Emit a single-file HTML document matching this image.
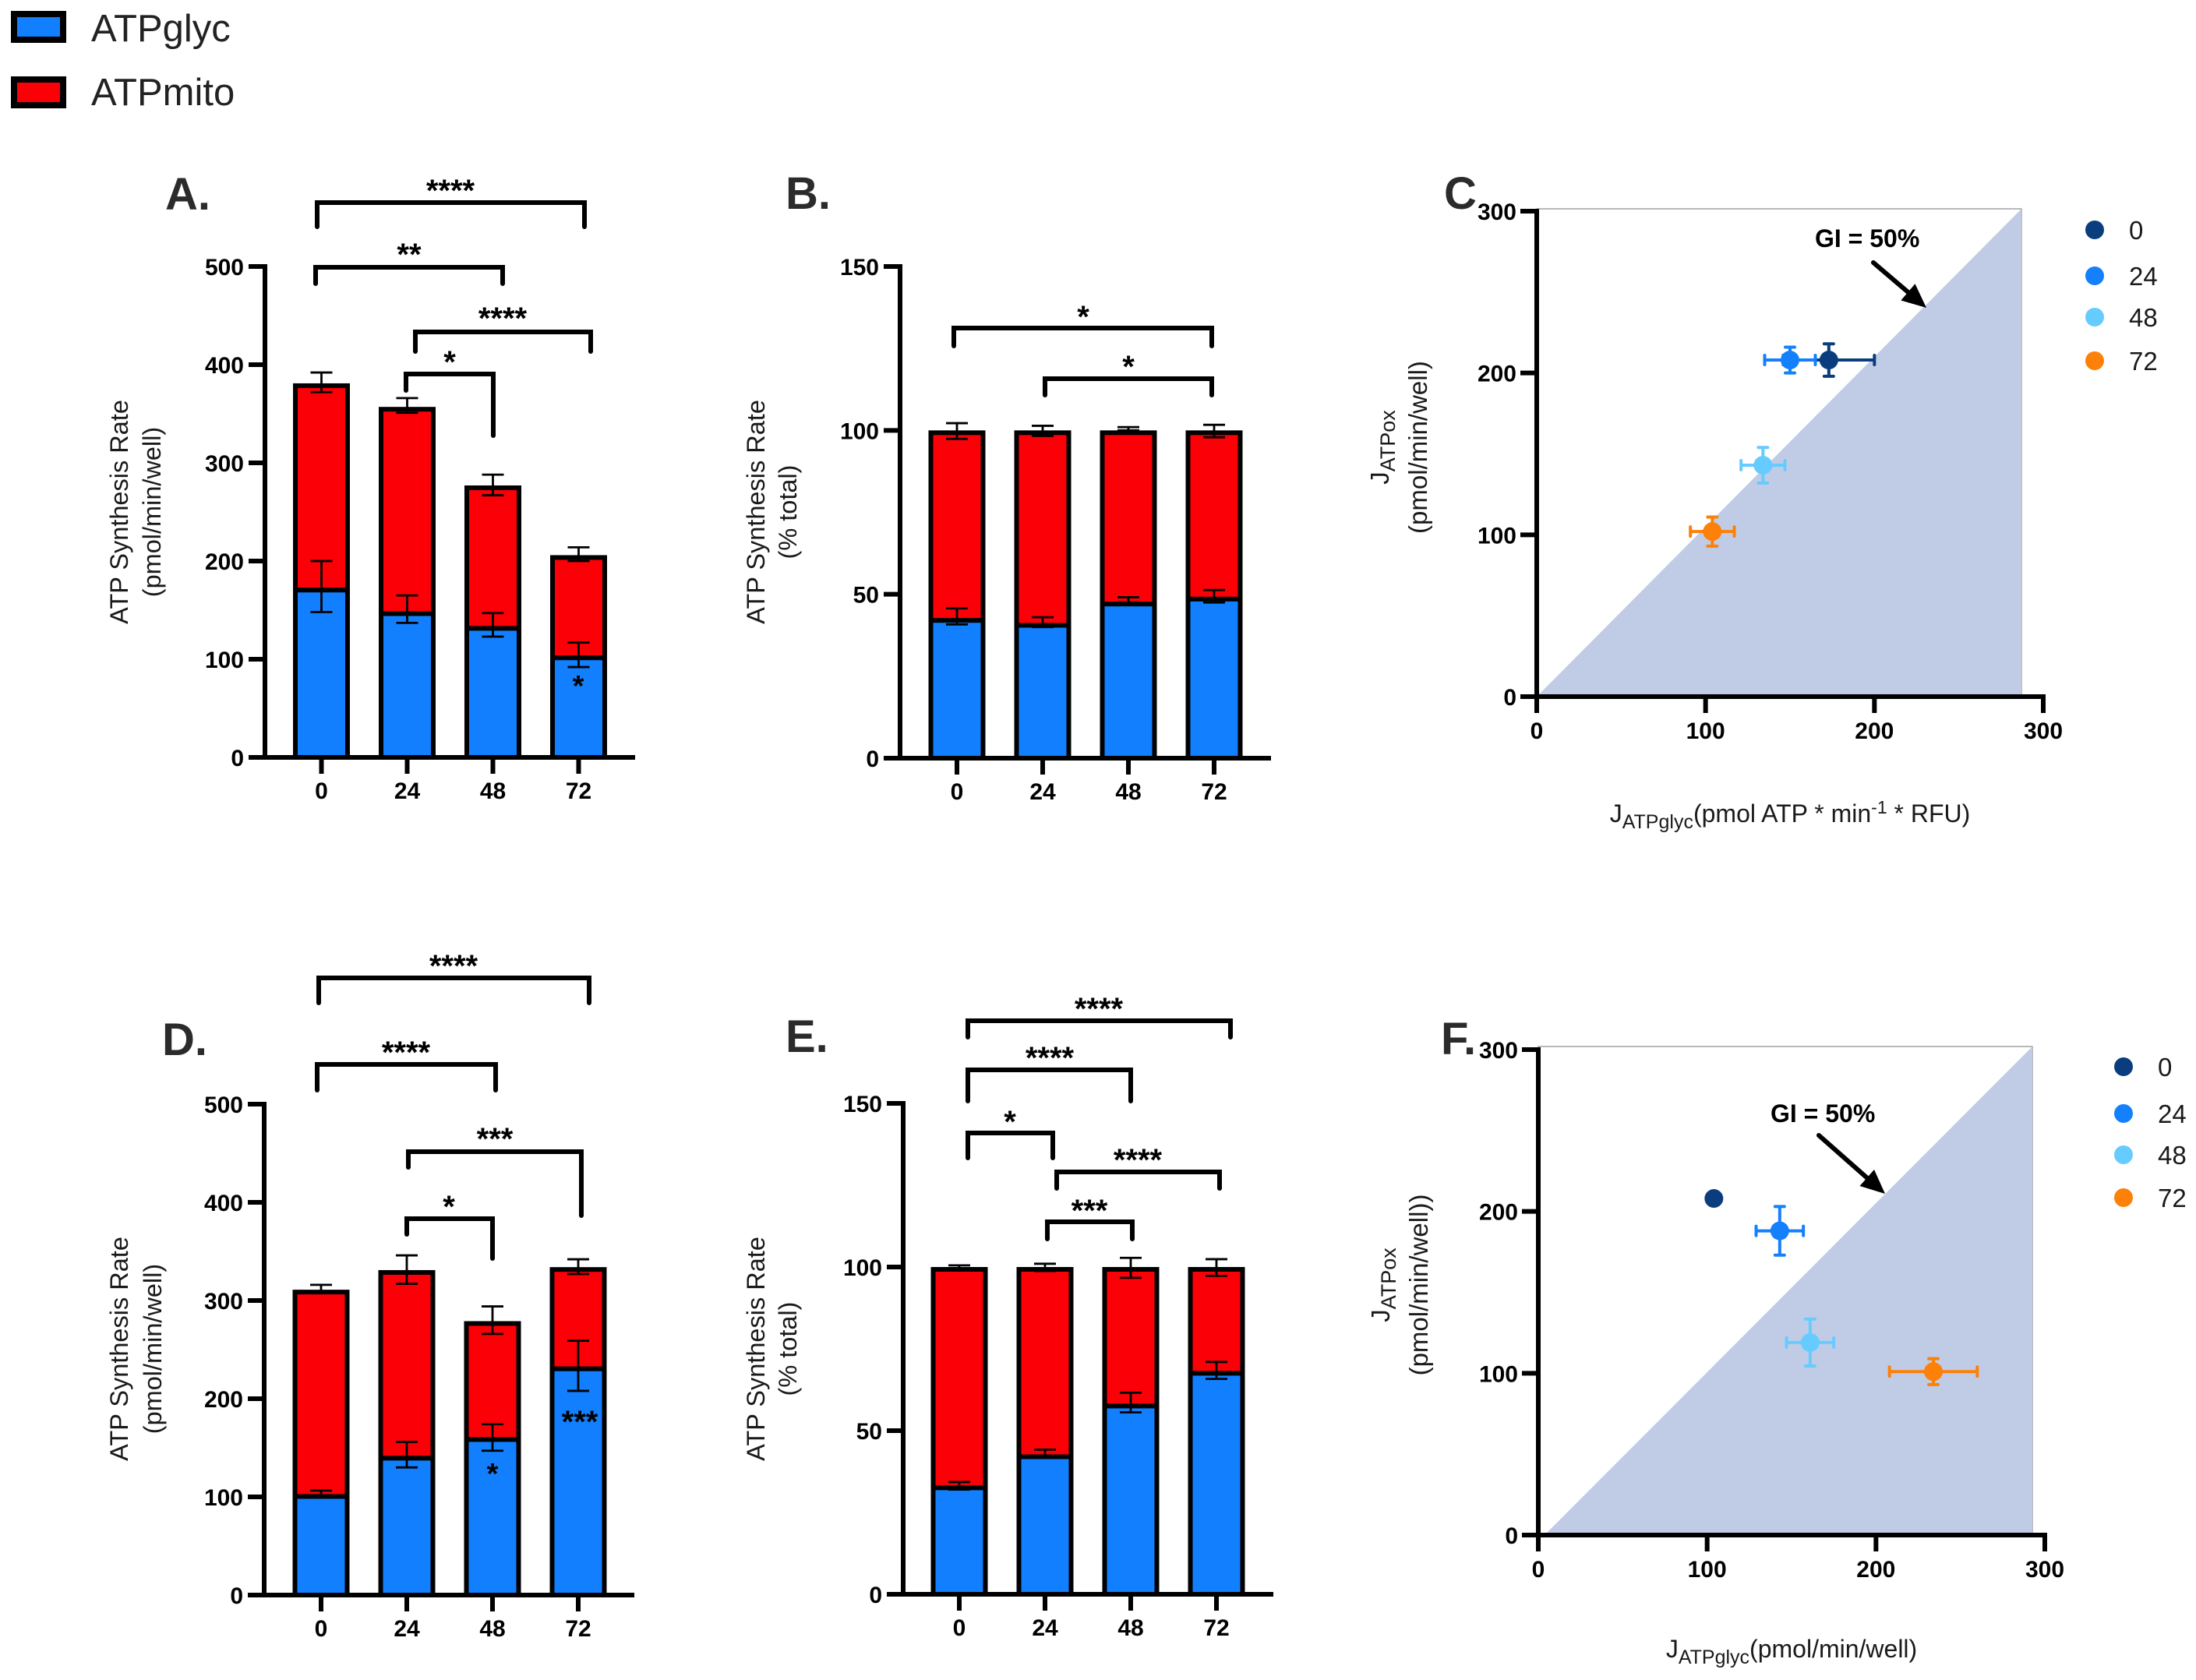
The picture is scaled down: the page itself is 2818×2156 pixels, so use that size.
<!DOCTYPE html>
<html lang="en">
<head>
<meta charset="utf-8">
<title>ATP synthesis rate panels</title>
<style>
html,body{margin:0;padding:0;background:#fff;}
svg{display:block;}
text{font-family:"Liberation Sans",Arial,sans-serif;}
</style>
</head>
<body>
<svg id="figure" xmlns="http://www.w3.org/2000/svg" width="2818" height="2156" viewBox="0 0 2818 2156">
  <rect x="0" y="0" width="2818" height="2156" fill="#fff"/>
  <g>
    <rect x="18" y="18" width="63" height="33" fill="#127fff" stroke="#000" stroke-width="8"/>
    <text x="117" y="53" font-size="49" fill="#222">ATPglyc</text>
    <rect x="18" y="102" width="63" height="33" fill="#fb0007" stroke="#000" stroke-width="8"/>
    <text x="117" y="135" font-size="49" fill="#222">ATPmito</text>
  </g>
  <text x="212" y="269" font-size="58" font-weight="700" fill="#2b2b2b">A.</text>
  <text x="1008" y="268" font-size="58" font-weight="700" fill="#2b2b2b">B.</text>
  <text x="1853" y="268" font-size="58" font-weight="700" fill="#2b2b2b">C</text>
  <text x="208" y="1354" font-size="58" font-weight="700" fill="#2b2b2b">D.</text>
  <text x="1008" y="1350" font-size="58" font-weight="700" fill="#2b2b2b">E.</text>
  <text x="1849" y="1353" font-size="58" font-weight="700" fill="#2b2b2b">F.</text>

  <g font-size="32.5" fill="#1a1a1a" text-anchor="middle">
    <text transform="translate(164,657) rotate(-90)">ATP Synthesis Rate</text>
    <text transform="translate(206,657) rotate(-90)">(pmol/min/well)</text>
  </g>
  <g font-size="32.5" fill="#1a1a1a" text-anchor="middle">
    <text transform="translate(981,657) rotate(-90)">ATP Synthesis Rate</text>
    <text transform="translate(1022,657) rotate(-90)">(% total)</text>
  </g>
  <g font-size="32.5" fill="#1a1a1a" text-anchor="middle">
    <text transform="translate(164,1731) rotate(-90)">ATP Synthesis Rate</text>
    <text transform="translate(207,1731) rotate(-90)">(pmol/min/well)</text>
  </g>
  <g font-size="32.5" fill="#1a1a1a" text-anchor="middle">
    <text transform="translate(981,1731) rotate(-90)">ATP Synthesis Rate</text>
    <text transform="translate(1022,1731) rotate(-90)">(% total)</text>
  </g>
  <g font-size="33" fill="#1a1a1a" text-anchor="middle">
    <text transform="translate(1782,574) rotate(-90)">J<tspan font-size="27" dy="8">ATPox</tspan></text>
    <text transform="translate(1831,574) rotate(-90)">(pmol/min/well)</text>
  </g>
  <g font-size="33" fill="#1a1a1a" text-anchor="middle">
    <text transform="translate(1783,1649) rotate(-90)">J<tspan font-size="27" dy="8">ATPox</tspan></text>
    <text transform="translate(1832,1649) rotate(-90)">(pmol/min/well))</text>
  </g>
  <text x="2297" y="1055" font-size="32" fill="#1a1a1a" text-anchor="middle">J<tspan font-size="25" dy="8">ATPglyc</tspan><tspan dy="-8">(pmol ATP * min</tspan><tspan font-size="23" dy="-11">-1</tspan><tspan dy="11"> * RFU)</tspan></text>
  <text x="2299" y="2127" font-size="32" fill="#1a1a1a" text-anchor="middle">J<tspan font-size="25" dy="8">ATPglyc</tspan><tspan dy="-8">(pmol/min/well)</tspan></text>
</svg>
<script>
// ---------- chart data ----------
var timepoints = ['0', '24', '48', '72'];
var rateTicks = [0, 100, 200, 300, 400, 500];
var percentTicks = [0, 50, 100, 150];
var scatterTicks = [0, 100, 200, 300];
var scatterColors = ['#0a3d7e', '#1480fc', '#66cbff', '#fd8008'];

var aGlyc = [172, 148, 133, 103];
var aMito = [209, 209, 144, 103];
var aGlycErrUp = [28, 17, 14, 14];
var aGlycErrDown = [24, 11, 10, 11];
var aMitoErrUp = [11, 9, 11, 8];
var aMitoErrDown = [9, 6, 10, 6];

var bGlyc = [42.5, 41, 47.5, 49];
var bMito = [57.5, 59, 52.5, 51];
var bGlycErrUp = [3.2, 2, 1.6, 2.3];
var bGlycErrDown = [1.7, 1, 0, 1.5];
var bMitoErrUp = [2.2, 1.4, 1, 1.7];
var bMitoErrDown = [2.6, 1.7, 0, 2.1];

var dGlyc = [102, 141, 160, 232];
var dMito = [209, 190, 119, 102];
var dGlycErrUp = [4.5, 15, 14, 27];
var dGlycErrDown = [2, 11, 13, 24];
var dMitoErrUp = [5, 15, 15, 8];
var dMitoErrDown = [3, 14, 13, 7];

var eGlyc = [33, 42.5, 58, 68];
var eMito = [67, 57.5, 42, 32];
var eGlycErrUp = [1.3, 1.7, 3.6, 3];
var eGlycErrDown = [1, 0.8, 2.4, 2.2];
var eMitoErrUp = [0.5, 1, 2.8, 2.4];
var eMitoErrDown = [0.5, 1.2, 3.3, 2.7];

var cGlycFlux = [173, 150, 134, 104];
var cOxFlux = [208, 208, 143, 102];
var cGlycFluxErr = [27, 15, 13, 13];
var cOxFluxErr = [10, 8, 11, 9];

var fGlycFlux = [104, 143, 161, 234];
var fOxFlux = [208, 188, 119, 101];
var fGlycFluxErr = [0, 14, 14, 26];
var fOxFluxErr = [0, 15, 14.5, 8];

// ---------- drawing ----------
var SVGNS = 'http://www.w3.org/2000/svg';
var figure = document.getElementById('figure');

function mk(tag, parent, attrs) {
  var node = document.createElementNS(SVGNS, tag);
  for (var key in attrs) { node.setAttribute(key, attrs[key]); }
  parent.appendChild(node);
  return node;
}

function drawLine(parent, x1, y1, x2, y2, color, width, name, cap) {
  var l = mk('line', parent, {x1: x1, y1: y1, x2: x2, y2: y2, stroke: color, 'stroke-width': width, 'stroke-linecap': cap || 'butt'});
  
  
  return l;
}

function drawLabel(parent, x, y, str, size, weight, anchor, name, color) {
  var t = mk('text', parent, {x: x, y: y, 'font-size': size, 'font-weight': weight, 'text-anchor': anchor, fill: color || '#000'});
  t.textContent = str;
  
  
  return t;
}

function drawStacked(panel, L, cats, glyc, mito, glycUp, glycDown, mitoUp, mitoDown, ticks, yMax) {
  var g = mk('g', figure, {});
  
  
  function y(v) { return L.y0 - v / yMax * (L.y0 - L.yTop); }
  function x(i) { return L.x0 + i * L.step; }

  cats.forEach(function (cat, i) {
    var top = glyc[i] + mito[i];
    var mitoBar = mk('rect', g, {x: x(i) - L.barW / 2, y: y(top) + 3, width: L.barW, height: y(glyc[i]) - y(top) - 1, fill: '#fb0007', stroke: '#000', 'stroke-width': 6});
    
    
    var glycBar = mk('rect', g, {x: x(i) - L.barW / 2, y: y(glyc[i]) + 2, width: L.barW, height: y(0) - y(glyc[i]) - 2, fill: '#127fff', stroke: '#000', 'stroke-width': 6});
    
    
  });

  cats.forEach(function (cat, i) {
    var top = glyc[i] + mito[i];
    drawErr(g, x(i), y(glyc[i] + glycUp[i]), y(glyc[i] - glycDown[i]), 'error-bar-atpglyc-' + cat);
    drawErr(g, x(i), y(top + mitoUp[i]), y(top - mitoDown[i]), 'error-bar-atpmito-' + cat);
  });

  drawLine(g, L.axisX, y(yMax) - 3, L.axisX, y(0) + 3, '#000', 6, 'y-axis-line-' + panel);
  drawLine(g, L.axisX - 21, y(0), L.xEnd, y(0), '#000', 6, 'x-axis-line-' + panel);
  ticks.forEach(function (t) {
    drawLine(g, L.axisX - 21, y(t), L.axisX, y(t), '#000', 6, 'y-tick-' + panel + '-' + t);
    drawLabel(g, L.axisX - 27, y(t) + 11, String(t), 30, 700, 'end', 'y-tick-label-' + panel + '-' + t);
  });
  cats.forEach(function (cat, i) {
    drawLine(g, x(i), y(0), x(i), y(0) + 21, '#000', 6, 'x-tick-' + panel + '-' + cat);
    drawLabel(g, x(i), y(0) + 53, cat, 30, 700, 'middle', 'x-tick-label-' + panel + '-' + cat);
  });
}

function drawErr(parent, cx, yHi, yLo, name) {
  var e = mk('path', parent, {d: 'M' + (cx - 14) + ' ' + yHi + 'H' + (cx + 14) + 'M' + cx + ' ' + yHi + 'V' + yLo + 'M' + (cx - 14) + ' ' + yLo + 'H' + (cx + 14), fill: 'none', stroke: '#000', 'stroke-width': 2.8});
  
  
}

function drawBracket(name, x1, x2, yTop, yLeft, yRight, stars, sx, sy) {
  var b = mk('path', figure, {d: 'M' + x1 + ' ' + yLeft + 'V' + yTop + 'H' + x2 + 'V' + yRight, fill: 'none', stroke: '#000', 'stroke-width': 6, 'stroke-linecap': 'round', 'stroke-linejoin': 'miter'});
  
  
  drawLabel(figure, sx, sy + 19, stars, 40, 700, 'middle', 'significance-stars-' + name);
}

function drawScatter(panel, L, cats, xs, ys, xErr, yErr, ticks, colors) {
  var g = mk('g', figure, {});
  
  
  function px(v) { return L.x0 + v / 300 * (L.x300 - L.x0); }
  function py(v) { return L.y0 - v / 300 * (L.y0 - L.y300); }

  var box = mk('rect', g, {x: px(0), y: L.boxTop, width: L.boxRight - px(0), height: py(0) - L.boxTop, fill: '#fff', stroke: '#8a8a8a', 'stroke-width': 1.2});
  
  
  var tri = mk('polygon', g, {points: L.triX + ',' + py(0) + ' ' + L.boxRight + ',' + L.boxTop + ' ' + L.boxRight + ',' + py(0), fill: '#c0cce6'});
  
  

  drawLine(g, px(0), L.y300 - 3, px(0), py(0) + 3, '#000', 6, 'y-axis-line-' + panel);
  drawLine(g, L.x0 - 21, py(0), L.x300 + 3, py(0), '#000', 6, 'x-axis-line-' + panel);
  ticks.forEach(function (t) {
    drawLine(g, L.x0 - 21, py(t), L.x0, py(t), '#000', 6, 'y-tick-' + panel + '-' + t);
    drawLabel(g, L.x0 - 26, py(t) + 11, String(t), 30, 700, 'end', 'y-tick-label-' + panel + '-' + t);
    drawLine(g, px(t), py(0), px(t), py(0) + 21, '#000', 6, 'x-tick-' + panel + '-' + t);
    drawLabel(g, px(t), py(0) + 54, String(t), 30, 700, 'middle', 'x-tick-label-' + panel + '-' + t);
  });

  cats.forEach(function (cat, i) {
    var cx = px(xs[i]), cy = py(ys[i]);
    if (xErr[i] > 0) {
      var hx = mk('path', g, {d: 'M' + px(xs[i] - xErr[i]) + ' ' + (cy - 6) + 'v12M' + px(xs[i] - xErr[i]) + ' ' + cy + 'H' + px(xs[i] + xErr[i]) + 'M' + px(xs[i] + xErr[i]) + ' ' + (cy - 6) + 'v12', fill: 'none', stroke: colors[i], 'stroke-width': 4, 'stroke-linecap': 'round'});
      
      
    }
    if (yErr[i] > 0) {
      var hy = mk('path', g, {d: 'M' + (cx - 6) + ' ' + py(ys[i] + yErr[i]) + 'h12M' + cx + ' ' + py(ys[i] + yErr[i]) + 'V' + py(ys[i] - yErr[i]) + 'M' + (cx - 6) + ' ' + py(ys[i] - yErr[i]) + 'h12', fill: 'none', stroke: colors[i], 'stroke-width': 4, 'stroke-linecap': 'round'});
      
      
    }
    var dot = mk('circle', g, {cx: cx, cy: cy, r: 12, fill: colors[i]});
    
    
  });

  cats.forEach(function (cat, i) {
    var dotY = L.legendY[i];
    var key = mk('circle', g, {cx: L.legendX, cy: dotY, r: 12, fill: colors[i]});
    
    
    drawLabel(g, L.legendX + 44, dotY + 12, cat, 33, 400, 'start', 'legend-label-' + panel + '-' + cat, '#1a1a1a');
  });
}

function drawArrow(name, x1, y1, x2, y2) {
  var dx = x2 - x1, dy = y2 - y1, len = Math.sqrt(dx * dx + dy * dy);
  var ux = dx / len, uy = dy / len, headLen = 31, headHalf = 14;
  var bx = x2 - ux * headLen, by = y2 - uy * headLen;
  drawLine(figure, x1, y1, bx, by, '#000', 6, name + '-shaft', 'round');
  var head = mk('polygon', figure, {points: x2 + ',' + y2 + ' ' + (bx - uy * headHalf) + ',' + (by + ux * headHalf) + ' ' + (bx + uy * headHalf) + ',' + (by - ux * headHalf), fill: '#000'});
  
  
}

drawStacked('a', {x0: 412.5, step: 110, y0: 972, yTop: 342, axisX: 340, xEnd: 815, barW: 67}, timepoints, aGlyc, aMito, aGlycErrUp, aGlycErrDown, aMitoErrUp, aMitoErrDown, rateTicks, 500);
drawStacked('b', {x0: 1228, step: 110, y0: 973, yTop: 342, axisX: 1155, xEnd: 1631, barW: 67}, timepoints, bGlyc, bMito, bGlycErrUp, bGlycErrDown, bMitoErrUp, bMitoErrDown, percentTicks, 150);
drawStacked('d', {x0: 412, step: 110, y0: 2047, yTop: 1417, axisX: 339, xEnd: 814, barW: 67}, timepoints, dGlyc, dMito, dGlycErrUp, dGlycErrDown, dMitoErrUp, dMitoErrDown, rateTicks, 500);
drawStacked('e', {x0: 1231, step: 110, y0: 2046, yTop: 1416, axisX: 1159, xEnd: 1634, barW: 67}, timepoints, eGlyc, eMito, eGlycErrUp, eGlycErrDown, eMitoErrUp, eMitoErrDown, percentTicks, 150);

drawScatter('c', {x0: 1972, x300: 2622, y0: 894, y300: 271, boxTop: 268, boxRight: 2594, triX: 1972, legendX: 2688, legendY: [295, 354, 407, 463]}, timepoints, cGlycFlux, cOxFlux, cGlycFluxErr, cOxFluxErr, scatterTicks, scatterColors);
drawScatter('f', {x0: 1974, x300: 2624, y0: 1970, y300: 1347, boxTop: 1343, boxRight: 2608, triX: 1982, legendX: 2725, legendY: [1369, 1429, 1482, 1537]}, timepoints, fGlycFlux, fOxFlux, fGlycFluxErr, fOxFluxErr, scatterTicks, scatterColors);

drawBracket('a-0-72', 407, 750, 260, 291, 291, '****', 578, 239);
drawBracket('a-0-48', 405, 645, 343, 364, 364, '**', 525, 321);
drawBracket('a-24-72', 533, 758, 426, 451, 451, '****', 645, 403);
drawBracket('a-24-48', 521, 633, 480, 501, 559, '*', 577, 459);
drawLabel(figure, 742, 893, '*', 38, 700, 'middle', 'significance-star-a-72');

drawBracket('b-0-72', 1224, 1555, 421, 444, 444, '*', 1390, 401);
drawBracket('b-24-72', 1341, 1555, 486, 507, 507, '*', 1448, 465);

drawBracket('d-0-72', 409, 756, 1255, 1287, 1287, '****', 582, 1234);
drawBracket('d-0-48', 407, 636, 1366, 1399, 1399, '****', 521, 1345);
drawBracket('d-24-72', 524, 746, 1478, 1498, 1560, '***', 635, 1456);
drawBracket('d-24-48', 522, 632, 1564, 1584, 1615, '*', 576, 1543);
drawLabel(figure, 632, 1904, '*', 38, 700, 'middle', 'significance-star-d-48');
drawLabel(figure, 744, 1838, '***', 40, 700, 'middle', 'significance-star-d-72');

drawBracket('e-0-72', 1242, 1579, 1310, 1331, 1331, '****', 1410, 1289);
drawBracket('e-0-48', 1242, 1451, 1373, 1413, 1413, '****', 1347, 1352);
drawBracket('e-0-24', 1242, 1351, 1454, 1486, 1486, '*', 1296, 1434);
drawBracket('e-24-72', 1356, 1565, 1504, 1525, 1525, '****', 1460, 1483);
drawBracket('e-24-48', 1344, 1453, 1568, 1590, 1590, '***', 1398, 1548);

drawLabel(figure, 2329, 317, 'GI = 50%', 32, 700, 'start', 'gi-annotation-c');
drawArrow('gi-arrow-c', 2404, 337, 2472, 395);
drawLabel(figure, 2272, 1440, 'GI = 50%', 32, 700, 'start', 'gi-annotation-f');
drawArrow('gi-arrow-f', 2334, 1457, 2419, 1532);
</script>
</body>
</html>
